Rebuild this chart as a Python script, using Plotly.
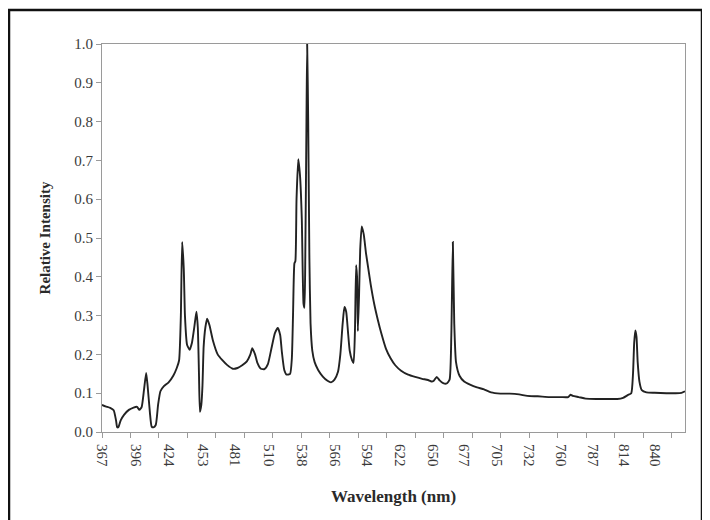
import plotly.graph_objects as go

# Spectrum: wavelength (nm) and relative intensity
wavelength = [
    367, 370, 374, 377, 379, 380, 381, 383, 386, 390, 394, 397, 399, 401, 403, 404.8, 406, 408, 409.5, 411,
    413, 415, 417, 420, 424, 428, 431, 433, 434.5, 435.6, 437, 438, 439.8, 442, 444, 446, 447.8, 449, 450, 450.8,
    452, 453, 454, 455.5, 457, 459, 462, 466, 470, 474, 479, 483, 487, 491, 494, 495.6, 498, 500, 503, 506,
    509, 512, 515, 517.5, 519.5, 521, 523, 525, 528, 529.5, 530.5, 531.7, 532.5, 533.5, 535, 536.5, 538, 539.5,
    540.3, 541, 542, 542.6, 543.5, 544.5, 545.5, 547, 549, 552, 556, 560, 563, 566, 569, 571, 573, 574.5,
    576, 577.5, 579, 581, 582.3, 583.5, 584.5, 585.3, 586, 587, 588, 589.3, 591, 593, 595, 597, 600, 603,
    606, 610, 614, 618, 623, 629, 635, 641, 646, 649, 651, 653.5, 656, 659, 662, 664.5, 666, 667.3, 668.5,
    670, 673, 677, 682, 688, 694, 700, 708, 716, 724, 731, 740, 750, 760, 766, 768, 770, 775, 781, 790, 800,
    808, 813, 817, 820, 821.5, 822.5, 823.5, 824.5, 825.5, 827, 829, 833, 840, 850, 858, 863, 866,
]
intensity = [
    0.070, 0.066, 0.062, 0.056, 0.030, 0.012, 0.012, 0.030, 0.045, 0.057, 0.063, 0.065, 0.057, 0.065, 0.110, 0.152, 0.120, 0.050, 0.014, 0.012,
    0.018, 0.070, 0.105, 0.118, 0.128, 0.145, 0.165, 0.185, 0.300, 0.490, 0.420, 0.300, 0.225, 0.212, 0.230, 0.270, 0.310, 0.270, 0.150, 0.052,
    0.070, 0.120, 0.220, 0.270, 0.292, 0.275, 0.235, 0.200, 0.185, 0.173, 0.163, 0.165, 0.172, 0.182, 0.200, 0.216, 0.200, 0.178, 0.163, 0.162,
    0.175, 0.215, 0.255, 0.268, 0.250, 0.205, 0.160, 0.148, 0.150, 0.190, 0.300, 0.435, 0.440, 0.600, 0.703, 0.660, 0.550, 0.330,
    0.320, 0.450, 0.800, 1.000, 0.800, 0.450, 0.280, 0.210, 0.180, 0.160, 0.143, 0.132, 0.128, 0.135, 0.155, 0.200, 0.280, 0.322,
    0.310, 0.260, 0.210, 0.185, 0.178, 0.260, 0.430, 0.400, 0.260, 0.350, 0.470, 0.530, 0.510, 0.460, 0.420, 0.380, 0.330, 0.290,
    0.255, 0.215, 0.190, 0.172, 0.158, 0.148, 0.142, 0.137, 0.134, 0.130, 0.132, 0.142, 0.133, 0.126, 0.125, 0.135, 0.250, 0.490, 0.280,
    0.180, 0.145, 0.130, 0.122, 0.115, 0.110, 0.102, 0.099, 0.099, 0.097, 0.093, 0.092, 0.090, 0.090, 0.090, 0.096, 0.093, 0.090, 0.086, 0.085, 0.085,
    0.085, 0.088, 0.095, 0.100, 0.150, 0.230, 0.262, 0.245, 0.180, 0.130, 0.108, 0.102, 0.101, 0.100, 0.100, 0.101, 0.105,
]

x_tick_labels = [367, 396, 424, 453, 481, 510, 538, 566, 594, 622, 650, 677, 705, 732, 760, 787, 814, 840]
y_tick_values = [0.0, 0.1, 0.2, 0.3, 0.4, 0.5, 0.6, 0.7, 0.8, 0.9, 1.0]

x_range = [367, 866]
tick_mark_step = 24.38

FONT = "Liberation Serif"
AXIS_COL = "#9a9a9a"

# page has an 8px body margin, so figure coords are page coords minus 8
ML, MR, MT, MB = 94, 33, 36, 96
PW, PH = 710 - ML - MR, 520 - MT - MB

fig = go.Figure()
fig.add_trace(go.Scatter(
    x=wavelength, y=intensity, mode="lines",
    line=dict(color="#222222", width=1.9, shape="spline", smoothing=0.5),
    hoverinfo="skip", showlegend=False,
))

fig.update_layout(
    width=710, height=520,
    margin=dict(l=ML, r=MR, t=MT, b=MB, autoexpand=False),
    paper_bgcolor="white", plot_bgcolor="white",
    font=dict(family=FONT, color="#333333"),
    xaxis=dict(
        range=x_range, showgrid=False, zeroline=False,
        tickmode="array", tickvals=x_tick_labels, ticktext=[str(v) for v in x_tick_labels],
        tickangle=90, ticks="", ticklabelstandoff=8,
        tickfont=dict(family=FONT, size=15, color="#3a3a3a"),
        showline=True, linecolor=AXIS_COL, linewidth=1, mirror=True,
        minor=dict(tick0=x_range[0], dtick=tick_mark_step, ticks="outside", ticklen=5,
                   tickcolor=AXIS_COL, tickwidth=1),
        title=dict(text="<b>Wavelength (nm)</b>", font=dict(family=FONT, size=17, color="#2a2a2a"),
                   standoff=24),
    ),
    yaxis=dict(
        range=[0, 1], showgrid=False, zeroline=False,
        tickmode="array", tickvals=y_tick_values, ticktext=[f"{v:.1f}" for v in y_tick_values],
        ticks="outside", ticklen=5, tickcolor=AXIS_COL,
        tickfont=dict(family=FONT, size=15, color="#3a3a3a"),
        showline=True, linecolor=AXIS_COL, linewidth=1, mirror=True,
        title=dict(text="<b>Relative Intensity</b>", font=dict(family=FONT, size=15, color="#2a2a2a"),
                   standoff=20),
    ),
    shapes=[dict(type="rect", xref="paper", yref="paper",
                 x0=(1 - ML) / PW, x1=(694 - ML) / PW,
                 y0=-0.4, y1=(PH - (2 - MT)) / PH,
                 line=dict(color="#111111", width=2.5), fillcolor="rgba(0,0,0,0)", layer="above")],
)

fig.write_html("out.html")
